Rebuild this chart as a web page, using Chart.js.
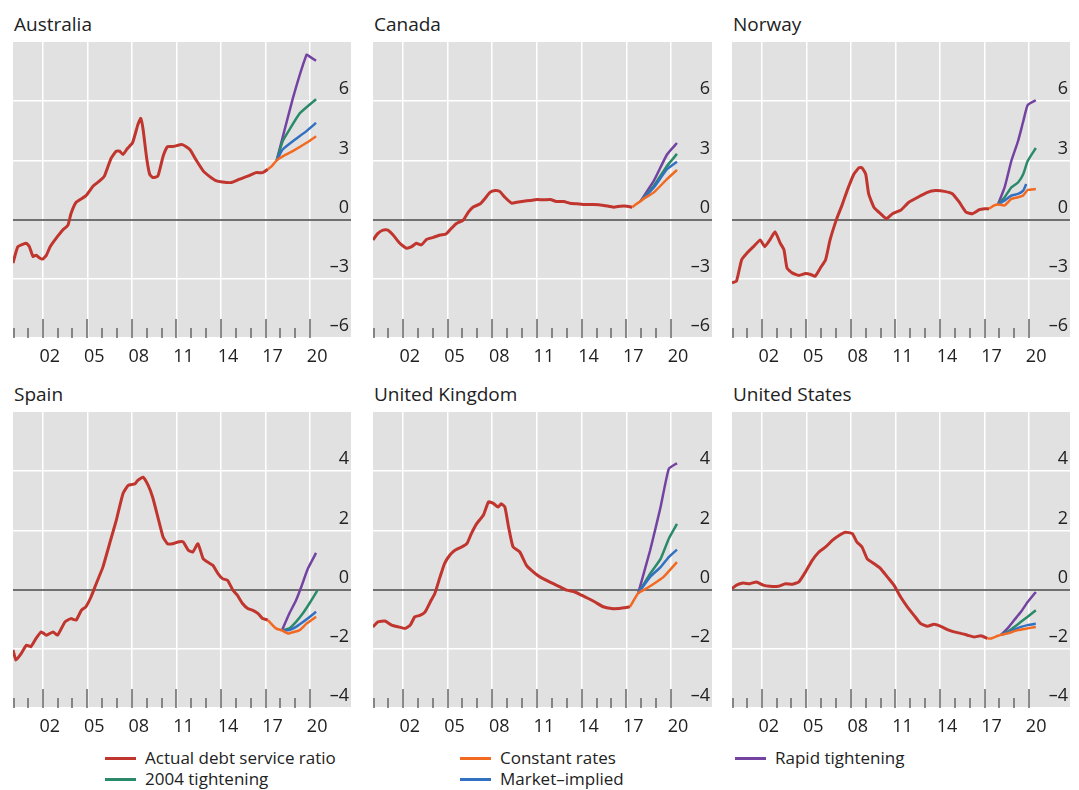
<!DOCTYPE html>
<html>
<head>
<meta charset="utf-8">
<script src="https://cdn.jsdelivr.net/npm/chart.js@4.4.1/dist/chart.umd.min.js"></script>
<style>
  body { margin: 0; background: #fff; width: 1079px; height: 790px; overflow: hidden; position: relative;
         font-family: "Open Sans", sans-serif; color: #222; }
  .title { position: absolute; font-size: 19px; line-height: 19px; white-space: nowrap; }
  canvas { position: absolute; }
  .leg { position: absolute; font-size: 17px; line-height: 18px; white-space: nowrap; }
  .leg i { position: absolute; left: 0; width: 31px; height: 3px; }
  .leg span { position: absolute; left: 40px; top: 0; }
</style>
</head>
<body>
<script>
// 系列名と色
const seriesNames = ['Actual debt service ratio', 'Constant rates', 'Rapid tightening', '2004 tightening', 'Market\u2013implied'];
const seriesColors = ['#c0352e', '#f26a22', '#7443a2', '#2b8a6a', '#3270c2'];

// 横軸: 年目盛り
const xTickYears = [2002, 2005, 2008, 2011, 2014, 2017, 2020];
const tickYears = [2000, 2001, 2002, 2003, 2004, 2005, 2006, 2007, 2008, 2009, 2010,
                   2011, 2012, 2013, 2014, 2015, 2016, 2017, 2018, 2019, 2020];
const topYTicks = [-6, -3, 0, 3, 6];
const bottomYTicks = [-4, -2, 0, 2, 4];

// Australia
const australiaActual = [[2000.0,-2.2],[2000.33,-1.37],[2000.9,-1.2],[2001.1,-1.37],[2001.35,-1.87],[2001.55,-1.8],[2001.8,-1.95],[2002.0,-2.0],[2002.25,-1.8],[2002.5,-1.37],[2002.9,-0.95],[2003.35,-0.53],[2003.7,-0.28],[2003.9,0.3],[2004.25,0.88],[2004.9,1.2],[2005.4,1.7],[2005.85,1.97],[2006.15,2.2],[2006.6,3.1],[2006.95,3.47],[2007.17,3.47],[2007.4,3.3],[2007.7,3.6],[2008.05,3.9],[2008.4,4.8],[2008.6,5.13],[2008.75,4.6],[2009.0,3.1],[2009.2,2.3],[2009.4,2.13],[2009.75,2.2],[2010.1,3.2],[2010.4,3.7],[2010.75,3.7],[2011.4,3.8],[2011.9,3.55],[2012.3,3.05],[2012.8,2.47],[2013.2,2.2],[2013.65,1.97],[2014.1,1.9],[2014.7,1.88],[2015.25,2.05],[2015.8,2.2],[2016.35,2.38],[2016.8,2.38],[2017.15,2.55]];
const australiaConstant = [[2017.15,2.55],[2017.4,2.7],[2017.75,3.0],[2018.15,3.2],[2018.83,3.47],[2019.73,3.88],[2020.4,4.22]];
const australiaMarket = [[2017.75,3.0],[2018.15,3.55],[2018.83,3.97],[2019.73,4.47],[2020.4,4.9]];
const australia2004 = [[2017.75,3.0],[2018.15,3.97],[2018.6,4.55],[2019.3,5.38],[2020.4,6.1]];
const australiaRapid = [[2017.75,3.0],[2018.83,6.13],[2019.75,8.35],[2019.9,8.3],[2020.4,8.05]];

// Canada
const canadaActual = [[2000.0,-1.03],[2000.33,-0.7],[2000.67,-0.53],[2001.0,-0.53],[2001.35,-0.78],[2001.8,-1.2],[2002.25,-1.45],[2002.6,-1.37],[2002.9,-1.2],[2003.25,-1.28],[2003.6,-1.0],[2004.05,-0.9],[2004.5,-0.78],[2004.9,-0.73],[2005.25,-0.45],[2005.6,-0.2],[2006.05,-0.03],[2006.4,0.38],[2006.7,0.63],[2007.2,0.8],[2007.5,1.05],[2007.85,1.38],[2008.2,1.47],[2008.5,1.43],[2008.85,1.13],[2009.3,0.83],[2009.65,0.88],[2010.1,0.93],[2010.55,0.97],[2011.0,1.02],[2011.45,1.0],[2011.9,1.02],[2012.3,0.92],[2012.8,0.92],[2013.2,0.83],[2013.7,0.8],[2014.1,0.77],[2014.8,0.77],[2015.5,0.72],[2016.15,0.63],[2016.6,0.68],[2017.05,0.68],[2017.4,0.63]];
const canadaConstant = [[2017.4,0.63],[2017.7,0.8],[2017.95,0.93],[2018.15,1.05],[2018.85,1.38],[2019.73,2.05],[2020.4,2.52]];
const canadaMarket = [[2017.95,0.93],[2018.85,1.63],[2019.73,2.55],[2020.4,2.93]];
const canada2004 = [[2017.95,0.93],[2018.85,1.72],[2019.73,2.72],[2020.4,3.33]];
const canadaRapid = [[2017.95,0.93],[2018.85,1.97],[2019.73,3.3],[2020.4,3.88]];

// Norway
const norwayActual = [[2000.0,-3.2],[2000.3,-3.12],[2000.65,-2.03],[2001.0,-1.7],[2001.45,-1.37],[2001.9,-1.03],[2002.2,-1.37],[2002.55,-1.03],[2002.9,-0.62],[2003.25,-1.2],[2003.5,-1.53],[2003.7,-2.45],[2004.05,-2.7],[2004.5,-2.83],[2004.95,-2.73],[2005.3,-2.78],[2005.6,-2.87],[2005.95,-2.45],[2006.3,-2.03],[2006.6,-1.03],[2007.05,0.05],[2007.4,0.72],[2007.75,1.47],[2008.2,2.3],[2008.55,2.63],[2008.75,2.63],[2009.0,2.3],[2009.2,1.3],[2009.55,0.63],[2010.0,0.3],[2010.4,0.05],[2010.8,0.3],[2011.35,0.47],[2011.9,0.88],[2012.5,1.13],[2013.15,1.38],[2013.7,1.47],[2014.3,1.43],[2014.85,1.3],[2015.3,0.88],[2015.75,0.38],[2016.2,0.3],[2016.65,0.5],[2017.0,0.55],[2017.3,0.55]];
const norwayConstant = [[2017.3,0.55],[2017.65,0.72],[2017.9,0.77],[2018.35,0.72],[2018.8,1.05],[2019.25,1.13],[2019.6,1.22],[2019.9,1.5],[2020.45,1.55]];
const norwayMarket = [[2017.9,0.77],[2018.35,0.97],[2018.8,1.22],[2019.25,1.3],[2019.6,1.47],[2019.8,1.8]];
const norway2004 = [[2017.9,0.77],[2018.35,1.13],[2018.8,1.63],[2019.25,1.88],[2019.6,2.3],[2019.9,2.97],[2020.45,3.63]];
const norwayRapid = [[2017.9,0.77],[2018.35,1.63],[2018.8,2.97],[2019.25,3.97],[2019.6,4.97],[2019.9,5.8],[2020.45,6.05]];

// Spain
const spainActual = [[2000.0,-2.04],[2000.2,-2.38],[2000.55,-2.16],[2000.9,-1.88],[2001.2,-1.93],[2001.55,-1.65],[2001.9,-1.43],[2002.25,-1.54],[2002.7,-1.43],[2003.0,-1.54],[2003.5,-1.09],[2003.9,-0.98],[2004.25,-1.03],[2004.6,-0.7],[2004.9,-0.58],[2005.25,-0.25],[2005.6,0.2],[2006.05,0.76],[2006.5,1.55],[2006.95,2.34],[2007.4,3.24],[2007.75,3.52],[2008.2,3.57],[2008.4,3.69],[2008.75,3.8],[2009.1,3.52],[2009.4,3.12],[2009.75,2.45],[2010.1,1.78],[2010.4,1.55],[2010.75,1.55],[2011.1,1.61],[2011.45,1.61],[2011.8,1.33],[2012.1,1.27],[2012.45,1.55],[2012.8,1.04],[2013.1,0.93],[2013.45,0.82],[2013.8,0.54],[2014.1,0.37],[2014.45,0.31],[2014.8,-0.02],[2015.1,-0.19],[2015.45,-0.47],[2015.8,-0.64],[2016.15,-0.7],[2016.5,-0.81],[2016.8,-0.98],[2017.15,-1.03]];
const spainConstant = [[2017.15,-1.03],[2017.7,-1.31],[2018.1,-1.38],[2018.5,-1.48],[2018.9,-1.43],[2019.3,-1.37],[2019.75,-1.15],[2020.4,-0.92]];
const spainMarket = [[2018.1,-1.38],[2018.6,-1.37],[2019.05,-1.26],[2019.7,-1.03],[2020.4,-0.75]];
const spain2004 = [[2018.1,-1.38],[2018.6,-1.31],[2019.05,-1.09],[2019.5,-0.81],[2019.95,-0.47],[2020.5,-0.02]];
const spainRapid = [[2018.1,-1.38],[2018.6,-0.81],[2019.05,-0.36],[2019.4,0.09],[2019.85,0.71],[2020.4,1.24]];

// United Kingdom
const ukActual = [[2000.0,-1.26],[2000.33,-1.09],[2000.8,-1.06],[2001.25,-1.2],[2001.7,-1.26],[2002.15,-1.31],[2002.5,-1.2],[2002.8,-0.92],[2003.15,-0.87],[2003.5,-0.75],[2003.9,-0.36],[2004.15,-0.13],[2004.5,0.43],[2004.8,0.88],[2005.15,1.16],[2005.5,1.33],[2005.95,1.44],[2006.3,1.55],[2006.6,1.89],[2006.95,2.22],[2007.4,2.51],[2007.75,2.96],[2008.05,2.92],[2008.4,2.79],[2008.6,2.9],[2008.85,2.79],[2009.1,2.11],[2009.4,1.44],[2009.85,1.27],[2010.3,0.82],[2010.75,0.6],[2011.2,0.43],[2011.65,0.31],[2012.1,0.2],[2012.55,0.09],[2013.0,-0.02],[2013.55,-0.08],[2014.0,-0.19],[2014.45,-0.3],[2014.9,-0.42],[2015.45,-0.58],[2016.0,-0.64],[2016.5,-0.64],[2016.9,-0.61],[2017.25,-0.58]];
const ukConstant = [[2017.25,-0.58],[2017.5,-0.36],[2017.8,-0.12],[2018.15,-0.02],[2018.85,0.2],[2019.5,0.43],[2020.4,0.93]];
const ukMarket = [[2017.8,-0.12],[2018.6,0.43],[2019.3,0.76],[2019.85,1.1],[2020.4,1.35]];
const uk2004 = [[2017.8,-0.12],[2018.6,0.54],[2019.3,1.04],[2019.85,1.72],[2020.4,2.22]];
const ukRapid = [[2017.8,-0.12],[2018.6,1.33],[2019.3,2.79],[2019.85,4.08],[2020.4,4.27]];

// United States
const usActual = [[2000.0,0.03],[2000.3,0.15],[2000.75,0.22],[2001.2,0.2],[2001.65,0.26],[2002.1,0.15],[2002.55,0.11],[2003.1,0.11],[2003.6,0.2],[2004.05,0.18],[2004.5,0.26],[2004.95,0.6],[2005.4,0.99],[2005.85,1.27],[2006.3,1.44],[2006.75,1.66],[2007.2,1.83],[2007.65,1.94],[2008.1,1.89],[2008.4,1.61],[2008.75,1.44],[2009.1,1.04],[2009.55,0.88],[2010.0,0.71],[2010.45,0.43],[2010.9,0.15],[2011.35,-0.25],[2011.8,-0.58],[2012.25,-0.87],[2012.7,-1.15],[2013.15,-1.24],[2013.6,-1.17],[2014.05,-1.24],[2014.5,-1.35],[2014.95,-1.43],[2015.4,-1.48],[2015.85,-1.54],[2016.3,-1.6],[2016.75,-1.56],[2017.2,-1.65]];
const usConstant = [[2017.2,-1.65],[2017.45,-1.65],[2017.9,-1.56],[2018.1,-1.53],[2018.55,-1.48],[2019.25,-1.37],[2019.9,-1.31],[2020.45,-1.26]];
const usMarket = [[2018.1,-1.53],[2018.55,-1.46],[2019.0,-1.35],[2019.45,-1.26],[2019.9,-1.2],[2020.45,-1.15]];
const us2004 = [[2018.1,-1.53],[2018.55,-1.43],[2019.0,-1.26],[2019.45,-1.09],[2019.9,-0.92],[2020.45,-0.7]];
const usRapid = [[2018.1,-1.53],[2018.55,-1.31],[2019.0,-1.03],[2019.45,-0.75],[2019.9,-0.42],[2020.45,-0.08]];

// パネルの配置 (px)
const PLOT_H = 296;
const AXIS_H = 34;
const FONT = '"Open Sans", sans-serif';
const panels = [
  { title: 'Australia', left: 13, top: 42, w: 338, yMin: -6, yMax: 9, yTicks: topYTicks,
    series: [australiaActual, australiaConstant, australiaRapid, australia2004, australiaMarket] },
  { title: 'Canada', left: 373, top: 42, w: 339, yMin: -6, yMax: 9, yTicks: topYTicks,
    series: [canadaActual, canadaConstant, canadaRapid, canada2004, canadaMarket] },
  { title: 'Norway', left: 732, top: 42, w: 338, yMin: -6, yMax: 9, yTicks: topYTicks,
    series: [norwayActual, norwayConstant, norwayRapid, norway2004, norwayMarket] },
  { title: 'Spain', left: 13, top: 412, w: 338, yMin: -4, yMax: 6, yTicks: bottomYTicks,
    series: [spainActual, spainConstant, spainRapid, spain2004, spainMarket] },
  { title: 'United Kingdom', left: 373, top: 412, w: 339, yMin: -4, yMax: 6, yTicks: bottomYTicks,
    series: [ukActual, ukConstant, ukRapid, uk2004, ukMarket] },
  { title: 'United States', left: 732, top: 412, w: 338, yMin: -4, yMax: 6, yTicks: bottomYTicks,
    series: [usActual, usConstant, usRapid, us2004, usMarket] }
];

// 灰色の背景
const plotBg = {
  id: 'plotBg',
  beforeDraw(chart) {
    const { ctx, chartArea: a } = chart;
    ctx.save();
    ctx.fillStyle = '#e1e1e1';
    ctx.fillRect(a.left, a.top, a.width, a.height);
    ctx.restore();
  }
};

// 下端の年ごとの目盛り線
const yearTicks = {
  id: 'yearTicks',
  beforeDatasetsDraw(chart) {
    const { ctx, chartArea: a, scales: { x } } = chart;
    ctx.save();
    ctx.strokeStyle = '#666';
    ctx.lineWidth = 1.5;
    tickYears.forEach(yr => {
      const px = Math.max(Math.round(x.getPixelForValue(yr)), a.left + 1);
      const len = xTickYears.includes(yr) ? 19 : 10;
      ctx.beginPath();
      ctx.moveTo(px, a.bottom);
      ctx.lineTo(px, a.bottom - len);
      ctx.stroke();
    });
    ctx.restore();
  }
};

panels.forEach(p => {
  const t = document.createElement('div');
  t.className = 'title';
  t.textContent = p.title;
  t.style.left = (p.left + 1) + 'px';
  t.style.top = (p.top - 27) + 'px';
  document.body.appendChild(t);

  const cv = document.createElement('canvas');
  cv.width = p.w;
  cv.height = PLOT_H + AXIS_H;
  cv.style.left = p.left + 'px';
  cv.style.top = p.top + 'px';
  cv.style.width = p.w + 'px';
  cv.style.height = (PLOT_H + AXIS_H) + 'px';
  document.body.appendChild(cv);

  // 先頭の系列が最前面に描かれるので、逆順に並べる
  const order = [1, 4, 3, 2, 0];
  const datasets = order.map(i => ({
    label: seriesNames[i],
    data: p.series[i].map(([x, y]) => ({ x, y })),
    borderColor: seriesColors[i],
    borderWidth: i === 0 ? 3 : 2.5,
    pointRadius: 0,
    tension: 0.15,
    fill: false
  }));

  new Chart(cv, {
    type: 'line',
    data: { datasets },
    plugins: [plotBg, yearTicks],
    options: {
      responsive: false,
      animation: false,
      devicePixelRatio: 1,
      layout: { padding: 0 },
      plugins: { legend: { display: false }, tooltip: { enabled: false } },
      scales: {
        x: {
          type: 'linear', min: 2000, max: 2022.75,
          afterBuildTicks: s => { s.ticks = xTickYears.map(v => ({ value: v })); },
          afterFit: s => { s.height = AXIS_H; s.paddingLeft = 0; s.paddingRight = 0; },
          grid: { color: '#ffffff', lineWidth: 1.5, drawTicks: false },
          border: { display: false },
          ticks: {
            padding: 8, labelOffset: 7, maxRotation: 0, autoSkip: false,
            color: '#222', font: { family: FONT, size: 18 },
            callback: v => String(v).slice(2)
          }
        },
        y: {
          position: 'right', min: p.yMin, max: p.yMax,
          afterBuildTicks: s => { s.ticks = p.yTicks.map(v => ({ value: v })); },
          afterFit: s => { s.width = 0; s.paddingTop = 0; s.paddingBottom = 0; },
          grid: {
            color: c => c.tick && c.tick.value === 0 ? '#707070' : '#ffffff',
            lineWidth: c => c.tick && c.tick.value === 0 ? 2 : 1.5,
            drawTicks: false
          },
          border: { display: false },
          ticks: {
            mirror: true, crossAlign: 'near', padding: -2, labelOffset: -12,
            color: '#222', font: { family: FONT, size: 18 },
            callback: v => v < 0 ? '\u2013' + Math.abs(v) : String(v)
          }
        }
      }
    }
  });
});

// 凡例
const legendPos = [
  { i: 0, left: 105, lineY: 758 },
  { i: 3, left: 105, lineY: 779 },
  { i: 1, left: 460, lineY: 758 },
  { i: 4, left: 460, lineY: 779 },
  { i: 2, left: 735, lineY: 758 }
];
legendPos.forEach(({ i, left, lineY }) => {
  const d = document.createElement('div');
  d.className = 'leg';
  d.style.left = left + 'px';
  d.style.top = (lineY - 9) + 'px';
  const line = document.createElement('i');
  line.style.background = seriesColors[i];
  line.style.top = '7.5px';
  const s = document.createElement('span');
  s.textContent = seriesNames[i];
  d.appendChild(line);
  d.appendChild(s);
  document.body.appendChild(d);
});
</script>
</body>
</html>
